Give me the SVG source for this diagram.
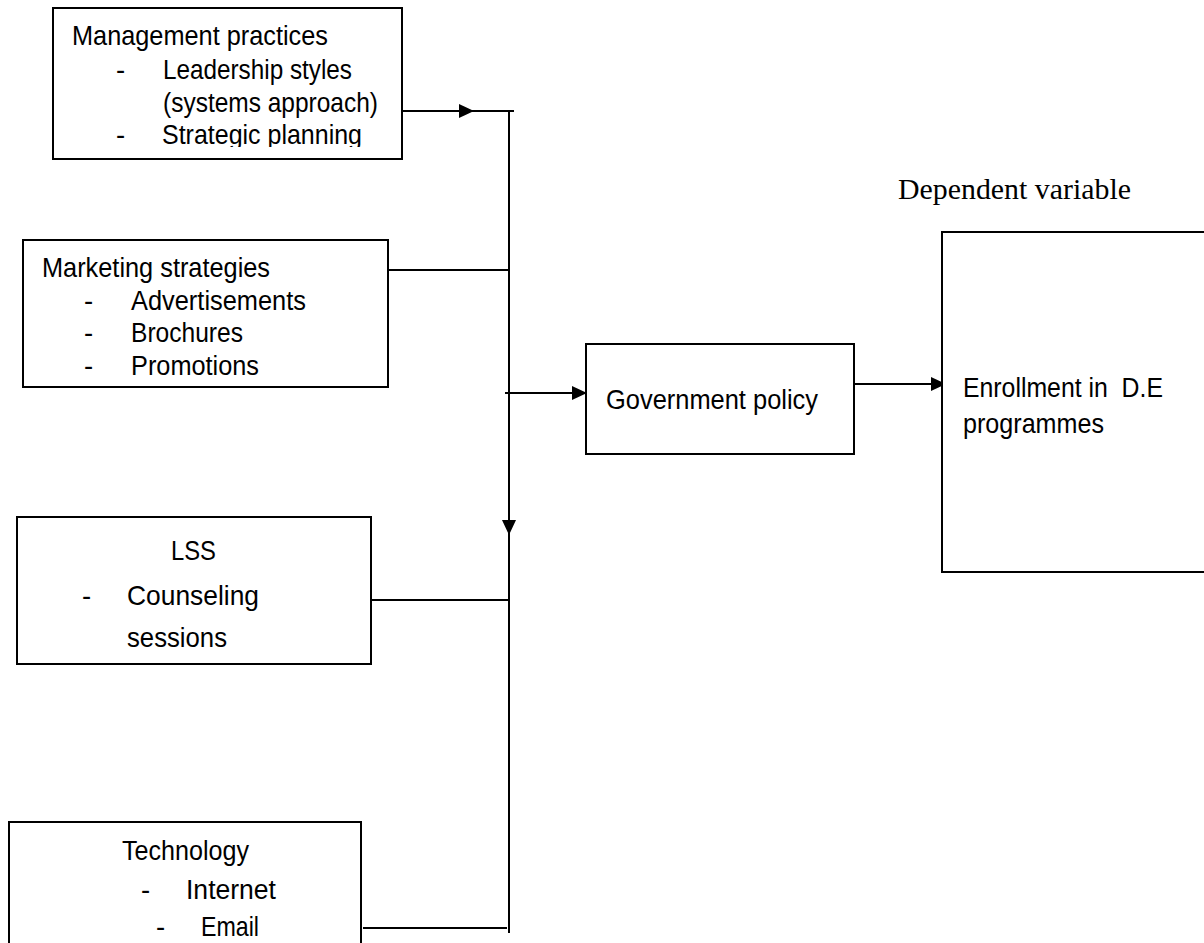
<svg xmlns="http://www.w3.org/2000/svg" width="1204" height="943" viewBox="0 0 1204 943">
<style>
.box{fill:#fff;stroke:#000;stroke-width:2}
.t{font-family:"Liberation Sans",Arial,sans-serif;font-size:27.5px;fill:#000}
.s{font-family:"Liberation Serif","Times New Roman",serif;font-size:29px;fill:#000}
.c{fill:none;stroke:#000;stroke-width:2}
</style>
<defs>
<marker id="arr" markerUnits="userSpaceOnUse" markerWidth="16" markerHeight="15" refX="15" refY="7" orient="auto">
<path d="M0,0 L15,7 L0,14 z" fill="#000"/>
</marker>
<clipPath id="clip1"><rect x="53" y="8" width="349" height="139"/></clipPath>
</defs>
<rect width="1204" height="943" fill="#fff"/>

<g id="connectors">
<path class="c" d="M396,111 L474,111" marker-end="url(#arr)"/>
<path class="c" d="M474,111 L514,111"/>
<path class="c" d="M509,111 L509,535" marker-end="url(#arr)"/>
<path class="c" d="M509,535 L509,933"/>
<path class="c" d="M388,270 L509,270"/>
<path class="c" d="M505,393 L587,393" marker-end="url(#arr)"/>
<path class="c" d="M366,600 L509,600"/>
<path class="c" d="M363,928 L507,928"/>
<path class="c" d="M854,384 L946,384" marker-end="url(#arr)"/>
</g>

<g id="management">
<rect class="box" x="53" y="8" width="349" height="151"/>
<g clip-path="url(#clip1)">
<text class="t" x="72" y="45" textLength="256" lengthAdjust="spacingAndGlyphs">Management practices</text>
<text class="t" x="116" y="79">-</text>
<text class="t" x="163" y="79" textLength="189" lengthAdjust="spacingAndGlyphs">Leadership styles</text>
<text class="t" x="163" y="112" textLength="215" lengthAdjust="spacingAndGlyphs">(systems approach)</text>
<text class="t" x="116" y="144">-</text>
<text class="t" x="162" y="144" textLength="200" lengthAdjust="spacingAndGlyphs">Strategic planning</text>
</g>
</g>

<g id="marketing">
<rect class="box" x="23" y="240" width="365" height="147"/>
<text class="t" x="42" y="277" textLength="228" lengthAdjust="spacingAndGlyphs">Marketing strategies</text>
<text class="t" x="84" y="310">-</text>
<text class="t" x="131" y="310" textLength="175" lengthAdjust="spacingAndGlyphs">Advertisements</text>
<text class="t" x="84" y="342">-</text>
<text class="t" x="131" y="342" textLength="112" lengthAdjust="spacingAndGlyphs">Brochures</text>
<text class="t" x="84" y="375">-</text>
<text class="t" x="131" y="375" textLength="128" lengthAdjust="spacingAndGlyphs">Promotions</text>
</g>

<g id="government">
<rect class="box" x="586" y="344" width="268" height="110"/>
<text class="t" x="606" y="409" textLength="212" lengthAdjust="spacingAndGlyphs">Government policy</text>
</g>

<g id="dependent-label">
<text class="s" x="898" y="199" textLength="233" lengthAdjust="spacingAndGlyphs">Dependent variable</text>
</g>

<g id="enrollment">
<rect class="box" x="942" y="232" width="270" height="340"/>
<text class="t" x="963" y="397" textLength="200" lengthAdjust="spacingAndGlyphs" xml:space="preserve">Enrollment in  D.E</text>
<text class="t" x="963" y="433" textLength="141" lengthAdjust="spacingAndGlyphs">programmes</text>
</g>

<g id="lss">
<rect class="box" x="17" y="517" width="354" height="147"/>
<text class="t" x="171" y="560" textLength="45" lengthAdjust="spacingAndGlyphs">LSS</text>
<text class="t" x="82" y="605">-</text>
<text class="t" x="127" y="605" textLength="132" lengthAdjust="spacingAndGlyphs">Counseling</text>
<text class="t" x="127" y="647" textLength="100" lengthAdjust="spacingAndGlyphs">sessions</text>
</g>

<g id="technology">
<rect class="box" x="9" y="822" width="352" height="130"/>
<text class="t" x="122" y="860" textLength="127" lengthAdjust="spacingAndGlyphs">Technology</text>
<text class="t" x="141" y="899">-</text>
<text class="t" x="186" y="899" textLength="90" lengthAdjust="spacingAndGlyphs">Internet</text>
<text class="t" x="156" y="936">-</text>
<text class="t" x="201" y="936" textLength="58" lengthAdjust="spacingAndGlyphs">Email</text>
</g>
</svg>
